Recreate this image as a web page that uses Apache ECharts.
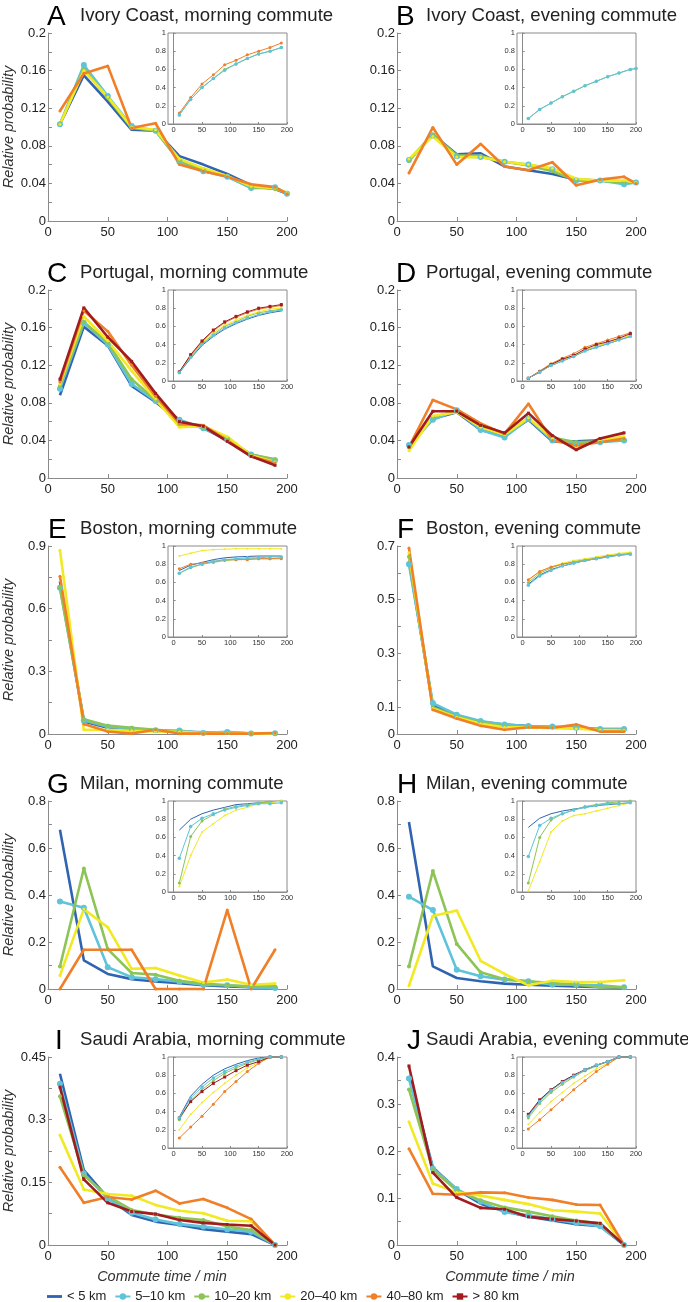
<!DOCTYPE html>
<html><head><meta charset="utf-8">
<script src="https://cdn.jsdelivr.net/npm/echarts@6/dist/echarts.min.js"></script>
<style>html,body{margin:0;padding:0;background:#fff}#c{width:688px;height:1302px}</style>
</head><body><div id="c"></div>
<script>
const seriesNames = ['< 5 km', '5–10 km', '10–20 km', '20–40 km', '40–80 km', '> 80 km'];
const colors = ['#3064b2', '#5fc3da', '#8dc456', '#f1e922', '#f07f27', '#a11b1f'];

const xMain = [10, 30, 50, 70, 90, 110, 130, 150, 170, 190];
const xMainIvory = [10, 30, 50, 70, 90, 110, 130, 150, 170, 190, 200];
const xInset = [10, 30, 50, 70, 90, 110, 130, 150, 170, 190];

const panelLetters = ['A', 'B', 'C', 'D', 'E', 'F', 'G', 'H', 'I', 'J'];
const panelTitles = ['Ivory Coast, morning commute', 'Ivory Coast, evening commute',
  'Portugal, morning commute', 'Portugal, evening commute',
  'Boston, morning commute', 'Boston, evening commute',
  'Milan, morning commute', 'Milan, evening commute',
  'Saudi Arabia, morning commute', 'Saudi Arabia, evening commute'];
const yMax = [0.2, 0.2, 0.2, 0.2, 0.9, 0.7, 0.8, 0.8, 0.45, 0.4];
const yStep = [0.02, 0.02, 0.02, 0.02, 0.15, 0.1, 0.1, 0.1, 0.075, 0.05];
const yTickLabels = [
  [0, 0.04, 0.08, 0.12, 0.16, 0.2], [0, 0.04, 0.08, 0.12, 0.16, 0.2],
  [0, 0.04, 0.08, 0.12, 0.16, 0.2], [0, 0.04, 0.08, 0.12, 0.16, 0.2],
  [0, 0.3, 0.6, 0.9], [0, 0.1, 0.3, 0.5, 0.7],
  [0, 0.2, 0.4, 0.6, 0.8], [0, 0.2, 0.4, 0.6, 0.8],
  [0, 0.15, 0.3, 0.45], [0, 0.1, 0.2, 0.3, 0.4]];
const xTickLabels = [0, 50, 100, 150, 200];
const insetYTicks = [0, 0.2, 0.4, 0.6, 0.8, 1];

// series order: < 5 km, 5–10, 10–20, 20–40, 40–80, > 80 (null = not drawn)
const mainA = [
  [0.103, 0.155, 0.127, 0.097, 0.096, 0.069, 0.060, 0.050, 0.038, 0.034, 0.029],
  [0.103, 0.166, 0.133, 0.101, 0.096, 0.063, 0.053, 0.047, 0.035, 0.036, 0.029],
  [0.103, 0.162, 0.131, 0.099, 0.096, 0.064, 0.055, 0.048, 0.036, 0.034, 0.030],
  [0.103, 0.160, 0.132, 0.100, 0.097, 0.066, 0.056, 0.048, 0.037, 0.035, 0.030],
  [0.117, 0.157, 0.165, 0.099, 0.104, 0.060, 0.053, 0.047, 0.039, 0.036, 0.029],
  null];
const mainB = [
  [0.065, 0.092, 0.071, 0.072, 0.058, 0.054, 0.050, 0.044, 0.043, 0.042, 0.041],
  [0.065, 0.091, 0.069, 0.068, 0.063, 0.060, 0.055, 0.043, 0.043, 0.039, 0.041],
  [0.064, 0.092, 0.070, 0.069, 0.063, 0.059, 0.053, 0.043, 0.043, 0.041, 0.041],
  [0.066, 0.090, 0.068, 0.068, 0.063, 0.060, 0.056, 0.045, 0.043, 0.043, 0.041],
  [0.051, 0.0995, 0.060, 0.082, 0.058, 0.054, 0.0625, 0.038, 0.044, 0.047, 0.040],
  null];
const mainC = [
  [0.088, 0.161, 0.141, 0.098, 0.081, 0.061, 0.053, 0.040, 0.024, 0.019],
  [0.095, 0.165, 0.142, 0.100, 0.082, 0.062, 0.053, 0.041, 0.025, 0.019],
  [0.098, 0.166, 0.144, 0.105, 0.083, 0.057, 0.054, 0.042, 0.025, 0.020],
  [0.100, 0.172, 0.146, 0.114, 0.084, 0.054, 0.055, 0.044, 0.024, 0.017],
  [0.102, 0.178, 0.156, 0.120, 0.087, 0.058, 0.056, 0.040, 0.023, 0.016],
  [0.105, 0.181, 0.150, 0.124, 0.090, 0.060, 0.055, 0.039, 0.023, 0.0135]];
const mainD = [
  [0.033, 0.063, 0.070, 0.051, 0.045, 0.062, 0.039, 0.039, 0.040, 0.041],
  [0.035, 0.062, 0.072, 0.051, 0.043, 0.063, 0.040, 0.037, 0.038, 0.040],
  [0.033, 0.065, 0.071, 0.055, 0.046, 0.063, 0.043, 0.038, 0.039, 0.041],
  [0.029, 0.066, 0.070, 0.054, 0.046, 0.064, 0.042, 0.033, 0.040, 0.044],
  [0.033, 0.083, 0.073, 0.058, 0.047, 0.079, 0.040, 0.0345, 0.038, 0.042],
  [0.033, 0.071, 0.071, 0.056, 0.048, 0.069, 0.045, 0.030, 0.042, 0.048]];
const mainE = [
  [0.73, 0.060, 0.030, 0.020, 0.015, 0.012, 0.008, 0.006, 0.003, 0.003],
  [0.70, 0.065, 0.035, 0.025, 0.018, 0.017, 0.005, 0.010, 0.002, 0.003],
  [0.70, 0.070, 0.040, 0.030, 0.020, 0.012, 0.005, 0.005, 0.002, 0.003],
  [0.88, 0.020, 0.020, 0.015, 0.012, 0.010, 0.005, 0.005, 0.003, 0.003],
  [0.755, 0.048, 0.012, 0.002, 0.020, 0.002, 0.002, 0.002, 0.002, 0.005],
  null];
const mainF = [
  [0.645, 0.105, 0.068, 0.045, 0.035, 0.030, 0.025, 0.022, 0.018, 0.015],
  [0.632, 0.115, 0.072, 0.048, 0.035, 0.030, 0.028, 0.023, 0.019, 0.019],
  [0.660, 0.100, 0.065, 0.043, 0.030, 0.028, 0.025, 0.022, 0.017, 0.015],
  [0.675, 0.095, 0.062, 0.038, 0.025, 0.025, 0.022, 0.020, 0.015, 0.013],
  [0.693, 0.090, 0.058, 0.031, 0.016, 0.025, 0.023, 0.035, 0.009, 0.009],
  null];
const mainG = [
  [0.678, 0.122, 0.064, 0.042, 0.032, 0.025, 0.016, 0.011, 0.008, 0.007],
  [0.372, 0.346, 0.093, 0.050, 0.042, 0.031, 0.018, 0.016, 0.008, 0.004],
  [0.096, 0.513, 0.170, 0.068, 0.061, 0.035, 0.023, 0.016, 0.011, 0.011],
  [0.057, 0.340, 0.263, 0.086, 0.089, 0.057, 0.028, 0.040, 0.018, 0.023],
  [0.0, 0.167, 0.167, 0.167, 0.0, 0.0, 0.0, 0.336, 0.0, 0.167],
  null];
const mainH = [
  [0.711, 0.096, 0.047, 0.033, 0.023, 0.018, 0.014, 0.011, 0.008, 0.004],
  [0.393, 0.336, 0.082, 0.054, 0.040, 0.033, 0.018, 0.018, 0.016, 0.007],
  [0.096, 0.502, 0.192, 0.071, 0.042, 0.033, 0.025, 0.018, 0.008, 0.007],
  [0.014, 0.311, 0.334, 0.120, 0.064, 0.016, 0.035, 0.030, 0.030, 0.037],
  null, null];
const mainI = [
  [0.410, 0.179, 0.113, 0.072, 0.056, 0.048, 0.038, 0.032, 0.026, 0.0],
  [0.386, 0.171, 0.111, 0.077, 0.061, 0.050, 0.044, 0.037, 0.032, 0.0],
  [0.356, 0.167, 0.117, 0.084, 0.073, 0.065, 0.060, 0.044, 0.036, 0.0],
  [0.263, 0.133, 0.122, 0.118, 0.096, 0.082, 0.076, 0.058, 0.057, 0.0],
  [0.186, 0.101, 0.115, 0.109, 0.130, 0.0995, 0.110, 0.089, 0.062, 0.0],
  [0.378, 0.157, 0.101, 0.080, 0.074, 0.060, 0.053, 0.049, 0.046, 0.0]];
const mainJ = [
  [0.360, 0.165, 0.118, 0.088, 0.072, 0.060, 0.052, 0.044, 0.040, 0.0],
  [0.354, 0.163, 0.119, 0.092, 0.070, 0.063, 0.055, 0.047, 0.040, 0.0],
  [0.331, 0.160, 0.116, 0.095, 0.080, 0.071, 0.061, 0.052, 0.046, 0.0],
  [0.262, 0.131, 0.112, 0.105, 0.096, 0.087, 0.074, 0.071, 0.067, 0.0],
  [0.205, 0.109, 0.107, 0.112, 0.111, 0.101, 0.096, 0.086, 0.085, 0.0],
  [0.381, 0.154, 0.101, 0.079, 0.076, 0.060, 0.055, 0.051, 0.046, 0.0]];

const insetA = [
  null,
  [0.10, 0.27, 0.40, 0.50, 0.59, 0.66, 0.72, 0.77, 0.80, 0.84],
  [0.10, 0.27, 0.40, 0.50, 0.60, 0.66, 0.72, 0.77, 0.80, 0.84],
  null,
  [0.12, 0.29, 0.44, 0.54, 0.65, 0.70, 0.76, 0.80, 0.84, 0.89],
  null];
const insetB = [
  null,
  [0.06, 0.16, 0.23, 0.30, 0.36, 0.42, 0.47, 0.52, 0.56, 0.60, 0.61],
  [0.06, 0.16, 0.23, 0.30, 0.36, 0.42, 0.47, 0.52, 0.56, 0.60, 0.61],
  null, null, null];
const insetC = [
  [0.09, 0.25, 0.39, 0.49, 0.57, 0.63, 0.68, 0.72, 0.75, 0.77],
  [0.09, 0.26, 0.40, 0.50, 0.58, 0.64, 0.69, 0.73, 0.76, 0.78],
  [0.10, 0.27, 0.41, 0.51, 0.60, 0.65, 0.71, 0.75, 0.77, 0.79],
  [0.10, 0.27, 0.42, 0.53, 0.61, 0.67, 0.72, 0.76, 0.79, 0.80],
  [0.10, 0.28, 0.43, 0.55, 0.64, 0.70, 0.75, 0.79, 0.81, 0.83],
  [0.10, 0.29, 0.44, 0.56, 0.65, 0.71, 0.76, 0.80, 0.82, 0.84]];
const insetD = [
  [0.03, 0.10, 0.17, 0.22, 0.27, 0.33, 0.37, 0.41, 0.45, 0.49],
  [0.03, 0.10, 0.17, 0.22, 0.27, 0.33, 0.37, 0.41, 0.45, 0.49],
  [0.03, 0.10, 0.17, 0.23, 0.27, 0.34, 0.38, 0.42, 0.46, 0.50],
  [0.03, 0.10, 0.17, 0.23, 0.28, 0.34, 0.38, 0.42, 0.46, 0.50],
  [0.03, 0.11, 0.19, 0.25, 0.30, 0.37, 0.41, 0.45, 0.49, 0.53],
  [0.03, 0.10, 0.18, 0.24, 0.28, 0.35, 0.40, 0.43, 0.47, 0.52]];
const insetE = [
  [0.73, 0.79, 0.82, 0.85, 0.87, 0.88, 0.885, 0.89, 0.89, 0.89],
  [0.70, 0.77, 0.80, 0.83, 0.85, 0.86, 0.87, 0.87, 0.88, 0.88],
  [0.70, 0.76, 0.80, 0.82, 0.84, 0.85, 0.86, 0.86, 0.86, 0.87],
  [0.89, 0.92, 0.95, 0.96, 0.965, 0.97, 0.97, 0.97, 0.97, 0.97],
  [0.75, 0.80, 0.81, 0.83, 0.85, 0.85, 0.85, 0.86, 0.86, 0.86],
  null];
const insetF = [
  [0.58, 0.68, 0.74, 0.78, 0.81, 0.84, 0.86, 0.88, 0.90, 0.91],
  [0.57, 0.67, 0.73, 0.78, 0.81, 0.84, 0.86, 0.88, 0.90, 0.91],
  [0.60, 0.70, 0.76, 0.80, 0.83, 0.85, 0.87, 0.89, 0.91, 0.92],
  [0.62, 0.72, 0.77, 0.81, 0.84, 0.86, 0.88, 0.90, 0.92, 0.93],
  [0.63, 0.72, 0.77, 0.80, 0.82, 0.84, 0.86, 0.89, 0.90, 0.91],
  null];
const insetG = [
  [0.68, 0.80, 0.86, 0.90, 0.93, 0.96, 0.97, 0.98, 0.99, 0.995],
  [0.37, 0.72, 0.81, 0.86, 0.90, 0.93, 0.95, 0.97, 0.97, 0.98],
  [0.10, 0.61, 0.78, 0.85, 0.91, 0.94, 0.96, 0.98, 0.99, 1.0],
  [0.06, 0.40, 0.66, 0.75, 0.84, 0.90, 0.93, 0.97, 0.98, 1.0],
  null, null];
const insetH = [
  [0.71, 0.81, 0.86, 0.89, 0.91, 0.93, 0.95, 0.96, 0.97, 0.98],
  [0.39, 0.73, 0.81, 0.86, 0.90, 0.93, 0.95, 0.97, 0.97, 0.98],
  [0.10, 0.60, 0.79, 0.86, 0.90, 0.94, 0.96, 0.98, 0.99, 1.0],
  [0.01, 0.33, 0.66, 0.78, 0.84, 0.86, 0.89, 0.92, 0.95, 0.98],
  null, null];
const insetI = [
  [0.34, 0.57, 0.70, 0.80, 0.87, 0.92, 0.96, 0.99, 1.0, 1.0],
  [0.33, 0.55, 0.67, 0.77, 0.84, 0.90, 0.94, 0.98, 1.0, 1.0],
  [0.31, 0.52, 0.64, 0.74, 0.82, 0.88, 0.93, 0.97, 1.0, 1.0],
  [0.20, 0.37, 0.50, 0.61, 0.71, 0.80, 0.88, 0.94, 1.0, 1.0],
  [0.11, 0.23, 0.35, 0.48, 0.62, 0.73, 0.84, 0.93, 1.0, 1.0],
  [0.33, 0.51, 0.62, 0.71, 0.78, 0.85, 0.91, 0.95, 1.0, 1.0]];
const insetJ = [
  [0.36, 0.52, 0.64, 0.73, 0.80, 0.86, 0.91, 0.95, 1.0, 1.0],
  [0.35, 0.51, 0.63, 0.72, 0.79, 0.86, 0.91, 0.95, 1.0, 1.0],
  [0.33, 0.49, 0.61, 0.70, 0.78, 0.85, 0.90, 0.95, 1.0, 1.0],
  [0.26, 0.39, 0.51, 0.61, 0.71, 0.79, 0.87, 0.93, 1.0, 1.0],
  [0.21, 0.31, 0.42, 0.53, 0.64, 0.74, 0.84, 0.92, 1.0, 1.0],
  [0.37, 0.53, 0.64, 0.73, 0.80, 0.86, 0.91, 0.95, 1.0, 1.0]];

const mainData = [mainA, mainB, mainC, mainD, mainE, mainF, mainG, mainH, mainI, mainJ];
const insetData = [insetA, insetB, insetC, insetD, insetE, insetF, insetG, insetH, insetI, insetJ];
const mainX = [xMainIvory, xMainIvory, xMain, xMain, xMain, xMain, xMain, xMain, xMain, xMain];
const insetX = [xInset, xMainIvory, xInset, xInset, xInset, xInset, xInset, xInset, xInset, xInset];

// ---- layout ----
const FONT = "'Liberation Sans', Arial, Helvetica, sans-serif";
const rowTop = [33, 290, 546, 801, 1057];
const colLeft = [48, 397];
const PW = 239, PH = 188;
const IW = 119, IH = 91, IOFF = 120;
const letterX = [47, 396, 47, 396, 48, 397, 47, 397, 55, 407];
const axisGray = '#8a8a8a';

const mainSym = ['none', 'circle', 'circle', 'circle', 'circle', 'rect'];
const mainSymSize = [0, 6, 4, 3, 3, 3];
const insetSym = ['none', 'circle', 'circle', 'circle', 'circle', 'rect'];
const insetSymSize = [0, 3.5, 3, 2, 3, 3];

const grids = [], xAxes = [], yAxes = [], series = [], graphics = [];

function fmtFactory(list) {
  return function (v) {
    const hit = list.find(l => Math.abs(l - v) < 1e-6);
    return hit === undefined ? '' : String(hit);
  };
}

for (let p = 0; p < 10; p++) {
  const r = Math.floor(p / 2), c = p % 2;
  const top = rowTop[r], left = colLeft[c];
  grids.push({ left: left, top: top, width: PW, height: PH, show: false });
  xAxes.push({
    type: 'value', gridIndex: 2 * p, min: 0, max: 200, interval: 50,
    axisLine: { show: true, lineStyle: { color: axisGray, width: 1 } },
    axisTick: { show: true, inside: true, length: 4, lineStyle: { color: axisGray } },
    axisLabel: { show: true, fontSize: 13, color: '#222', fontFamily: FONT, margin: 5,
      formatter: fmtFactory(xTickLabels) },
    splitLine: { show: false }
  });
  yAxes.push({
    type: 'value', gridIndex: 2 * p, min: 0, max: yMax[p], interval: yStep[p],
    axisLine: { show: true, lineStyle: { color: axisGray, width: 1 } },
    axisTick: { show: true, inside: true, length: 4, lineStyle: { color: axisGray } },
    axisLabel: { show: true, fontSize: 13, color: '#222', fontFamily: FONT, margin: 2,
      formatter: fmtFactory(yTickLabels[p]) },
    splitLine: { show: false }
  });
  grids.push({ left: left + IOFF, top: top, width: IW, height: IH, show: true,
    borderColor: axisGray, borderWidth: 1, backgroundColor: '#fff' });
  xAxes.push({
    type: 'value', gridIndex: 2 * p + 1, min: -10, max: 200,
    axisLine: { show: true, lineStyle: { color: axisGray, width: 1 } },
    axisTick: { show: true, inside: true, length: 2, customValues: xTickLabels, lineStyle: { color: axisGray } },
    axisLabel: { show: true, fontSize: 7.5, color: '#333', fontFamily: FONT, margin: 2,
      customValues: xTickLabels },
    splitLine: { show: false }
  });
  yAxes.push({
    type: 'value', gridIndex: 2 * p + 1, min: 0, max: 1, interval: 0.2,
    axisLine: { show: true, lineStyle: { color: axisGray, width: 1 } },
    axisTick: { show: true, inside: true, length: 2, lineStyle: { color: axisGray } },
    axisLabel: { show: true, fontSize: 7.5, color: '#333', fontFamily: FONT, margin: 2,
      formatter: fmtFactory(insetYTicks) },
    splitLine: { show: false }
  });

  for (let s = 0; s < 6; s++) {
    const vals = mainData[p][s];
    if (!vals) continue;
    series.push({
      type: 'line', name: seriesNames[s], xAxisIndex: 2 * p, yAxisIndex: 2 * p,
      data: mainX[p].map((x, i) => [x, vals[i]]),
      symbol: mainSym[s], symbolSize: mainSymSize[s], showSymbol: mainSym[s] !== 'none',
      lineStyle: { color: colors[s], width: 2.6 }, itemStyle: { color: colors[s] },
      clip: false, silent: true, z: 2
    });
  }
  for (let s = 0; s < 6; s++) {
    const vals = insetData[p][s];
    if (!vals) continue;
    series.push({
      type: 'line', name: seriesNames[s], xAxisIndex: 2 * p + 1, yAxisIndex: 2 * p + 1,
      data: insetX[p].map((x, i) => [x, vals[i]]),
      symbol: insetSym[s], symbolSize: insetSymSize[s], showSymbol: insetSym[s] !== 'none',
      lineStyle: { color: colors[s], width: 1 }, itemStyle: { color: colors[s] },
      clip: false, silent: true, z: (s === 1 ? 4 : 3)
    });
  }

  const ty = top - 17;
  graphics.push({ type: 'text', x: letterX[p], y: ty + 1,
    style: { text: panelLetters[p], fontSize: 28, fontFamily: FONT, fill: '#000', align: 'left', verticalAlign: 'middle' } });
  graphics.push({ type: 'text', x: c === 0 ? 80 : 426, y: ty,
    style: { text: panelTitles[p], fontSize: 18.6, fontFamily: FONT, fill: '#222', align: 'left', verticalAlign: 'middle' } });
  if (c === 0) {
    graphics.push({ type: 'text', x: 9, y: top + PH / 2, rotation: Math.PI / 2,
      style: { text: 'Relative probability', fontSize: 14.5, fontStyle: 'italic', fontFamily: FONT, fill: '#333', align: 'center', verticalAlign: 'middle' } });
  }
}
graphics.push({ type: 'text', x: 162, y: 1277,
  style: { text: 'Commute time / min', fontSize: 14.5, fontStyle: 'italic', fontFamily: FONT, fill: '#333', align: 'center', verticalAlign: 'middle' } });
graphics.push({ type: 'text', x: 510, y: 1277,
  style: { text: 'Commute time / min', fontSize: 14.5, fontStyle: 'italic', fontFamily: FONT, fill: '#333', align: 'center', verticalAlign: 'middle' } });

const legendData = seriesNames.map((n, i) => i === 0
  ? { name: n, icon: 'path://M0,0 L16,0 L16,3 L0,3 Z', itemStyle: { color: colors[0] } }
  : { name: n });

const chart = echarts.init(document.getElementById('c'), null, { renderer: 'canvas' });
chart.setOption({
  animation: false,
  backgroundColor: '#fff',
  grid: grids, xAxis: xAxes, yAxis: yAxes, series: series, graphic: graphics,
  legend: {
    data: legendData, left: 47, top: 1290, padding: 0, itemWidth: 15, itemHeight: 8, itemGap: 8,
    selectedMode: false,
    textStyle: { fontSize: 13, color: '#222', fontFamily: FONT }
  }
});
</script>
</body></html>
